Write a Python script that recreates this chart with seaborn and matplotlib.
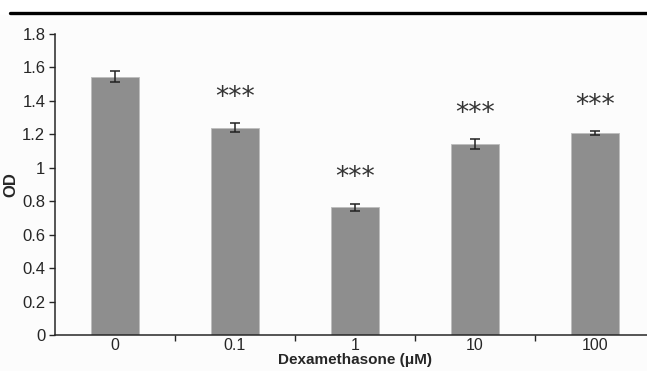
import numpy as np
import pandas as pd
import seaborn as sns
import matplotlib.pyplot as plt
from matplotlib.lines import Line2D
from matplotlib.patches import Rectangle

# data
doses = ['0', '0.1', '1', '10', '100']
od = [1.545, 1.238, 0.765, 1.142, 1.207]
od_err = [0.035, 0.027, 0.021, 0.031, 0.012]
signif = ['', '***', '***', '***', '***']

sns.set_style('ticks')
plt.rcParams['font.family'] = ['Liberation Sans', 'DejaVu Sans']

df = pd.DataFrame({'dose': doses, 'od': od})

fig = plt.figure(figsize=(6.47, 3.71), dpi=100)
W, H = 647, 371
# faint grey panel below the rule, like the scanned figure
fig.add_artist(Rectangle((0, 0), 1, (H - 15) / H, transform=fig.transFigure,
                         color='#fcfcfc', zorder=-10))
fig.add_artist(Line2D([10 / W, 1], [(H - 13) / H] * 2, transform=fig.transFigure,
                      color='black', lw=2.4))

ax = fig.add_axes([55 / W, 36 / H, 600 / W, 301 / H])
ax.set_facecolor('none')
sns.barplot(data=df, x='dose', y='od', color='#8e8e8e', width=0.4,
            edgecolor='#bdbdbd', linewidth=0.6, saturation=1, ax=ax)
xs = np.arange(len(doses))
ax.errorbar(xs, od, yerr=od_err, fmt='none', ecolor='#222222',
            elinewidth=1.1, capsize=3.5, capthick=1.1)
for x, v, e, s in zip(xs, od, od_err, signif):
    if s:
        ax.text(x, v + e + 0.15, s, ha='center', va='center',
                fontsize=19, color='#333333', family='DejaVu Sans')

ax.set_ylim(0, 1.8)
ax.set_xlim(-0.5, len(doses) - 0.5)
ax.set_yticks(np.arange(0, 1.81, 0.2))
ax.set_yticklabels(['0', '0.2', '0.4', '0.6', '0.8', '1', '1.2', '1.4', '1.6', '1.8'])
ax.set_xticks(xs)
ax.set_xticklabels(doses)
ax.tick_params(axis='x', length=0, labelsize=11.5, pad=2)
ax.set_xticks(np.arange(0.5, len(doses) - 0.5, 1), minor=True)
ax.tick_params(axis='x', which='minor', length=4, width=1)
ax.tick_params(axis='y', length=4, width=1, labelsize=12, pad=3)
for sp in ['top', 'right']:
    ax.spines[sp].set_visible(False)
for sp in ['left', 'bottom']:
    ax.spines[sp].set_linewidth(1.1)

ax.set_xlabel('Dexamethasone (μM)', fontsize=11, fontweight='bold')
ax.set_ylabel('OD', fontsize=12, fontweight='bold')
ax.xaxis.set_label_coords(0.5, -18 / 301)
ax.yaxis.set_label_coords(-37 / 600, 0.5)

fig.savefig('out.png', dpi=100)
